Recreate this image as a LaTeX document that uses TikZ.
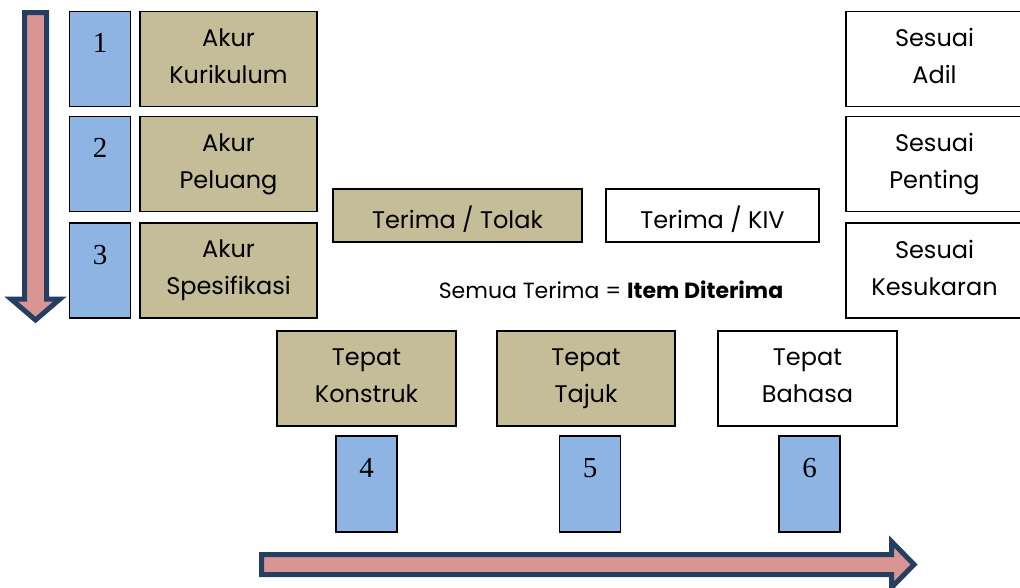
\documentclass[tikz,border=0pt]{standalone}
\usepackage{fontspec}
\setmainfont{Poppins}
\newfontfamily\numfont{Liberation Serif}
\newcommand\boxstrut{\rule[-6pt]{0pt}{37pt}}
\definecolor{boxblue}{HTML}{8EB4E3}
\definecolor{boxtan}{HTML}{C4BD97}
\definecolor{arrowpink}{HTML}{D99594}
\definecolor{arrownavy}{HTML}{243F60}
\tikzset{
  base/.style={draw=black, line width=1.3pt, inner sep=0pt, align=center,
    font=\fontsize{24}{37}\selectfont,
    execute at begin node=\boxstrut, execute at end node=\boxstrut},
  tanbox/.style={base, fill=boxtan, minimum width=#1, minimum height=95pt},
  whitebox/.style={base, fill=white, minimum width=#1, minimum height=95pt},
  numbox/.style={draw=black, line width=1.3pt, fill=boxblue, inner sep=0pt,
    minimum width=61pt, text height=41pt, text depth=54pt,
    font=\numfont\fontsize{29}{29}\selectfont},
  flatbox/.style={base, minimum width=#1, minimum height=53pt},
  bigarrow/.style={draw=arrownavy, line width=5pt, fill=arrowpink, line join=miter}
}
\begin{document}
\begin{tikzpicture}[x=1pt,y=-1pt]
\useasboundingbox (0,0) rectangle (1020,587);
\clip (0,0) rectangle (1020,587);
% down arrow
\draw[bigarrow] (24.5,12.5) -- (46.5,12.5) -- (46.5,299) -- (60,299) -- (35.5,320) -- (11,299) -- (24.5,299) -- cycle;
% right arrow
\draw[bigarrow] (261.5,554.5) -- (891.5,554.5) -- (891.5,541.5) -- (914,564.5) -- (891.5,587.5) -- (891.5,574.5) -- (261.5,574.5) -- cycle;
% left column
\node[numbox] (n1) at (100,59) {1};
\node[numbox] (n2) at (100,164) {2};
\node[numbox] (n3) at (100,270.5) {3};
\node[tanbox=177pt] (a1) at (228.5,59) {Akur\\Kurikulum};
\node[tanbox=177pt] (a2) at (228.5,164) {Akur\\Peluang};
\node[tanbox=177pt] (a3) at (228.5,270.5) {Akur\\Spesifikasi};
% right column
\node[whitebox=177pt] (s1) at (934.5,59) {Sesuai\\Adil};
\node[whitebox=177pt] (s2) at (934.5,164) {Sesuai\\Penting};
\node[whitebox=177pt] (s3) at (934.5,270.5) {Sesuai\\Kesukaran};
% middle
\node[flatbox=249pt, fill=boxtan] (tt) at (457.5,215.5) {Terima / Tolak};
\node[flatbox=213pt, fill=white] (tk) at (712.5,215.5) {Terima / KIV};
\node[font=\fontsize{22}{26}\selectfont, inner sep=0pt] (sem) at (611,290) {Semua Terima = \textbf{Item Diterima}};
% bottom row
\node[tanbox=179pt] (p1) at (366.5,378.5) {Tepat\\Konstruk};
\node[tanbox=178pt] (p2) at (586,378.5) {Tepat\\Tajuk};
\node[whitebox=179pt] (p3) at (807.5,378.5) {Tepat\\Bahasa};
\node[numbox, text depth=55pt] (n4) at (366.5,484) {4};
\node[numbox, text depth=55pt] (n5) at (590,484) {5};
\node[numbox, text depth=55pt] (n6) at (809.5,484) {6};
\end{tikzpicture}
\end{document}
